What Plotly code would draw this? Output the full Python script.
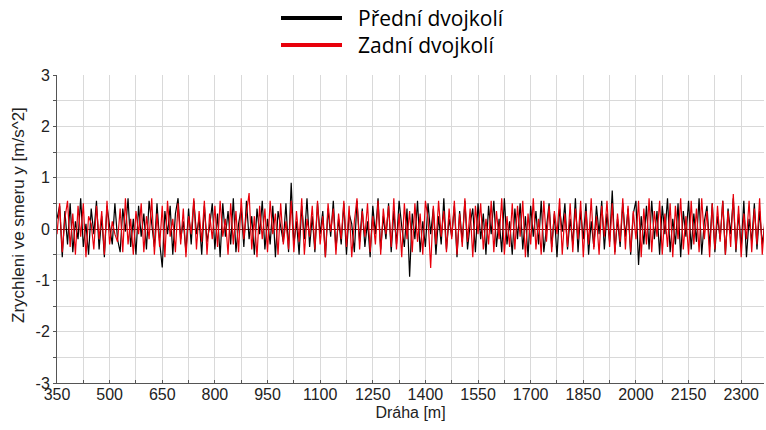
import numpy as np
import plotly.graph_objects as go

# Distance axis: samples every 7.5 m starting at 350 m
x_start = 350
x_step = 7.5

# Přední dvojkolí (front wheelset) lateral acceleration [m/s^2]
predni = [
    0.2, 0.45, -0.55, 0.35, -0.3, 0.5, -0.45, 0.15, -0.2, 0.6, -0.35, 0.1, -0.5, 0.4, -0.1,
    0.55, -0.4, 0.25, -0.55, 0.45, 0.05, -0.3, 0.5, -0.2, -0.45, 0.4, -0.05, 0.6, -0.35, 0.2,
    -0.5, 0.45, -0.15, 0.3, -0.4, 0.55, 0.1, -0.35, 0.5, -0.25, -0.75, 0.35, -0.1, 0.45, -0.5,
    0.3, 0.6, -0.2, 0.15, -0.45, 0.4, -0.3, 0.55, -0.1, 0.2, -0.5, 0.45, -0.25, 0.05, 0.5,
    -0.4, 0.3, -0.55, 0.5, -0.15, 0.35, -0.3, 0.6, -0.45, 0.1, 0.4, -0.35, 0.55, -0.2, 0.25,
    -0.5, 0.4, -0.1, 0.55, -0.4, 0.2, -0.3, 0.45, -0.55, 0.35, 0.05, -0.25, 0.5, -0.45, 0.9,
    -0.3, 0.15, -0.5, 0.45, -0.2, 0.6, -0.35, 0.25, -0.45, 0.5, -0.1, 0.35, -0.55, 0.4, -0.15,
    0.55, -0.4, 0.2, -0.3, 0.5, -0.5, 0.3, 0.1, -0.45, 0.55, -0.25, 0.4, -0.35, 0.15, -0.55,
    0.45, -0.1, 0.6, -0.4, 0.25, -0.2, 0.5, -0.45, 0.35, -0.3, 0.55, 0.05, -0.35, 0.4, -0.93,
    0.3, -0.2, 0.55, -0.45, 0.15, -0.35, 0.5, -0.1, 0.4, -0.5, 0.25, -0.3, 0.6, -0.4, 0.2,
    -0.15, 0.45, -0.55, 0.35, -0.25, 0.55, -0.4, 0.1, 0.4, -0.45, 0.5, -0.2, 0.3, -0.5, 0.45,
    -0.1, 0.55, -0.35, 0.2, -0.45, 0.6, -0.3, 0.15, -0.5, 0.4, -0.2, 0.5, -0.4, 0.25, -0.55,
    0.45, -0.15, 0.35, -0.3, 0.55, -0.45, 0.1, 0.5, -0.35, 0.3, -0.55, 0.4, -0.05, 0.5, -0.4,
    0.2, -0.3, 0.6, -0.45, 0.35, -0.2, 0.5, -0.5, 0.15, -0.35, 0.45, -0.1, 0.55, -0.4, 0.3,
    -0.25, 0.75, -0.45, 0.2, -0.35, 0.5, -0.15, 0.4, -0.5, 0.3, 0.55, -0.7, 0.25, -0.3, 0.45,
    -0.4, 0.55, -0.2, 0.35, -0.5, 0.45, -0.1, 0.6, -0.45, 0.2, -0.3, 0.5, -0.55, 0.35, -0.15,
    0.55, -0.4, 0.3, -0.25, 0.6, -0.5, 0.15, 0.45, -0.35, 0.5, -0.45, 0.25, -0.2, 0.55, -0.5,
    0.4, -0.1, 0.6, -0.45, 0.3, -0.35, 0.55, -0.55, 0.2, -0.25, 0.5, -0.4, 0.35, -0.3, 0.1,
]

# Zadní dvojkolí (rear wheelset) lateral acceleration [m/s^2]
zadni = [
    -0.1, 0.5, -0.45, 0.2, 0.55, -0.35, 0.3, -0.5, 0.45, -0.15, 0.5, -0.55, 0.25, 0.1, -0.4,
    0.45, -0.2, 0.35, -0.5, 0.55, -0.3, 0.15, -0.1, -0.25, 0.4, -0.45, 0.6, -0.3, 0.2, -0.5,
    0.35, -0.1, 0.5, -0.45, 0.25, -0.2, 0.6, -0.5, 0.3, -0.35, 0.45, -0.55, 0.55, -0.15, 0.2,
    -0.45, 0.5, -0.3, 0.4, -0.55, 0.25, -0.1, 0.6, -0.4, 0.35, -0.25, 0.55, -0.5, 0.3, -0.2,
    0.45, -0.35, 0.55, -0.15, 0.2, -0.5, 0.5, -0.3, 0.35, -0.45, 0.6, -0.2, 0.3, 0.7, -0.4,
    0.25, -0.55, 0.45, -0.2, 0.4, -0.45, 0.55, -0.1, 0.3, -0.5, 0.5, -0.3, 0.15, -0.4, 0.55,
    -0.45, 0.35, -0.25, 0.6, -0.5, 0.2, -0.15, 0.45, -0.4, 0.55, -0.3, 0.25, -0.55, 0.5, -0.05,
    0.4, -0.5, 0.3, -0.2, 0.55, -0.35, 0.45, -0.55, 0.15, 0.6, -0.4, 0.35, -0.15, 0.5, -0.45,
    0.25, -0.3, 0.55, -0.5, 0.4, -0.1, 0.45, -0.35, 0.6, -0.4, 0.3, -0.55, 0.5, -0.2, 0.35,
    -0.45, 0.5, -0.25, 0.3, -0.5, 0.55, 0.2, -0.76, 0.45, -0.3, 0.55, -0.15, 0.35, -0.45, 0.4,
    -0.2, 0.55, -0.5, 0.3, -0.35, 0.6, -0.25, 0.4, -0.55, 0.45, -0.1, 0.5, -0.4, 0.2, -0.3,
    0.55, -0.45, 0.35, -0.2, 0.6, -0.5, 0.25, -0.35, 0.5, -0.4, 0.45, -0.15, 0.55, -0.55, 0.3,
    -0.3, 0.6, -0.4, 0.2, -0.5, 0.55, -0.25, 0.45, -0.45, 0.35, -0.1, 0.6, -0.5, 0.3, -0.35,
    0.5, -0.45, 0.4, -0.2, 0.55, -0.55, 0.35, -0.3, 0.6, -0.4, 0.25, -0.5, 0.45, -0.15, 0.55,
    -0.35, 0.5, -0.5, 0.3, -0.25, 0.6, -0.4, 0.45, -0.45, 0.35, -0.2, 0.55, -0.55, 0.4, -0.3,
    0.6, -0.45, 0.35, -0.15, 0.55, -0.5, 0.3, -0.35, 0.5, -0.55, 0.45, -0.2, 0.6, -0.4, 0.25,
    -0.5, 0.55, -0.3, 0.4, -0.45, 0.6, -0.2, 0.35, -0.55, 0.5, -0.4, 0.45, -0.25, 0.55, -0.5,
    0.35, -0.35, 0.68, -0.4, 0.45, -0.55, 0.3, -0.2, 0.55, -0.45, 0.4, -0.3, 0.6, -0.5, 0.2,
]

series_names = ["Přední dvojkolí", "Zadní dvojkolí"]
series_colors = ["#000000", "#e8000b"]
x_ticks = [350, 500, 650, 800, 950, 1100, 1250, 1400, 1550, 1700, 1850, 2000, 2150, 2300]
y_ticks = [-3, -2, -1, 0, 1, 2, 3]
x_title = "Dráha [m]"
y_title = "Zrychleni ve smeru y [m/s^2]"

x_pre = x_start + x_step * np.arange(len(predni))
x_zad = x_start + x_step * np.arange(len(zadni))

fig = go.Figure()
fig.add_trace(go.Scatter(x=x_pre, y=predni, mode="lines", name=series_names[0],
                         line=dict(color=series_colors[0], width=1.2), showlegend=False))
fig.add_trace(go.Scatter(x=x_zad, y=zadni, mode="lines", name=series_names[1],
                         line=dict(color=series_colors[1], width=1.2), showlegend=False))

axis_font = dict(family="Liberation Sans, Arial, sans-serif", size=16, color="#222222")

fig.update_xaxes(
    range=[350, 2365], tickvals=x_ticks, ticktext=[str(t) for t in x_ticks],
    showgrid=True, gridcolor="#d9d9d9", gridwidth=1,
    minor=dict(dtick=75, tick0=350, showgrid=True, gridcolor="#d9d9d9", ticks="inside", ticklen=3, tickcolor="#555555"),
    ticks="inside", ticklen=3, tickcolor="#555555",
    ticklabelstandoff=-3,
    showline=True, linecolor="#555555", linewidth=1, mirror=False,
    zeroline=False, tickfont=axis_font,
    title=dict(text=x_title, font=axis_font, standoff=4),
)
fig.update_yaxes(
    range=[-3, 3], tickvals=y_ticks, ticktext=[str(t) for t in y_ticks],
    showgrid=True, gridcolor="#d9d9d9", gridwidth=1,
    minor=dict(dtick=0.5, tick0=0, showgrid=True, gridcolor="#d9d9d9", ticks="outside", ticklen=3, tickcolor="#555555"),
    ticks="outside", ticklen=3, tickcolor="#555555",
    showline=True, linecolor="#555555", linewidth=1,
    zeroline=True, zerolinecolor="#6b1a1a", zerolinewidth=1.2,
    tickfont=axis_font,
)

plot_left, plot_right, plot_top, plot_bottom = 57, 764, 75, 383
pw = plot_right - plot_left
ph = plot_bottom - plot_top

def px_x(px):
    return (px - plot_left) / pw

def px_y(py):
    return (plot_bottom - py) / ph

# Y-axis title as a rotated annotation (positioned like the reference)
fig.add_annotation(xref="paper", yref="paper", x=px_x(18), y=px_y(215),
                   text=y_title, textangle=-90, showarrow=False,
                   xanchor="center", yanchor="middle",
                   font=dict(family="Liberation Sans, Arial, sans-serif", size=17, color="#222222"))

# Manual legend (long thick line samples above the plot)
legend_font = dict(family="Open Sans, Noto Sans, sans-serif", size=21, color="#000000")
legend_rows = [18, 45]
for name, color, ypx in zip(series_names, series_colors, legend_rows):
    fig.add_shape(type="line", xref="paper", yref="paper",
                  x0=px_x(281), x1=px_x(342), y0=px_y(ypx), y1=px_y(ypx),
                  line=dict(color=color, width=4))
    fig.add_annotation(xref="paper", yref="paper", x=px_x(356), y=px_y(ypx),
                       text=name, showarrow=False, xanchor="left", yanchor="middle",
                       font=legend_font)

fig.update_layout(
    width=766, height=430,
    margin=dict(l=plot_left, r=766 - plot_right, t=plot_top, b=430 - plot_bottom),
    paper_bgcolor="white", plot_bgcolor="white",
    showlegend=False,
)

fig.write_html("out.html")
